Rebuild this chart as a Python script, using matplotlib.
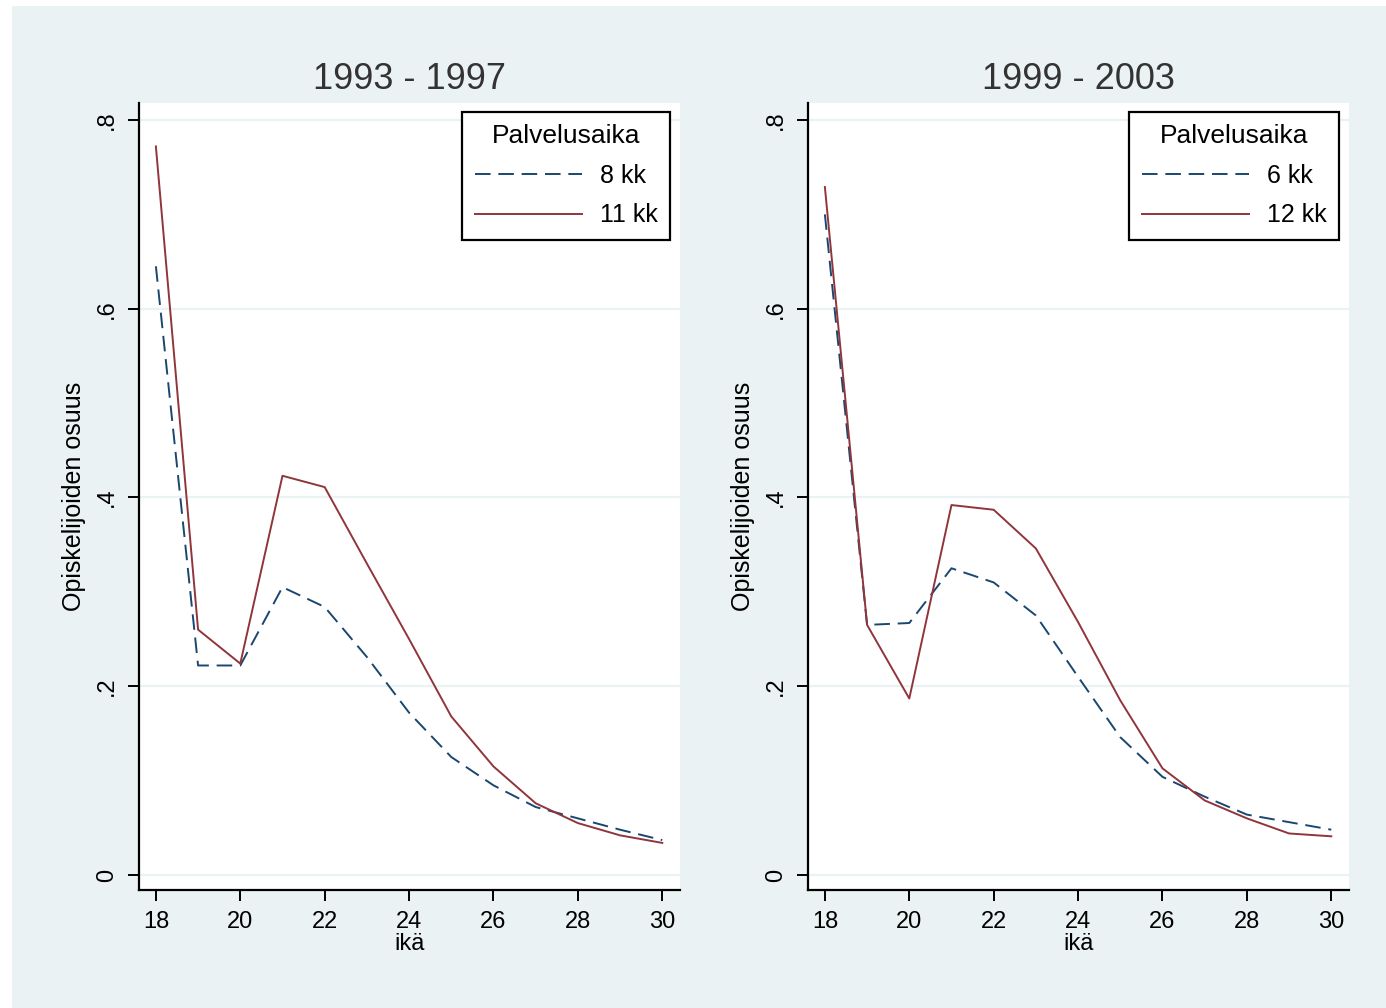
import matplotlib
matplotlib.use("Agg")
import matplotlib.pyplot as plt
from matplotlib.patches import Rectangle

# Datat (luettu kuvasta)
ika = [18, 19, 20, 21, 22, 23, 24, 25, 26, 27, 28, 29, 30]

vasen_8kk = [0.645, 0.222, 0.222, 0.305, 0.284, 0.231, 0.172, 0.125, 0.095, 0.072, 0.060, 0.048, 0.037]
vasen_11kk = [0.772, 0.260, 0.224, 0.423, 0.411, 0.330, 0.250, 0.168, 0.115, 0.076, 0.055, 0.042, 0.034]

oikea_6kk = [0.700, 0.265, 0.267, 0.325, 0.310, 0.275, 0.210, 0.146, 0.104, 0.083, 0.064, 0.056, 0.048]
oikea_12kk = [0.729, 0.265, 0.187, 0.392, 0.387, 0.346, 0.268, 0.185, 0.113, 0.079, 0.060, 0.044, 0.041]

otsikot = ["1993 - 1997", "1999 - 2003"]
selitteet = [("8 kk", "11 kk"), ("6 kk", "12 kk")]
y_ticks = [0, 0.2, 0.4, 0.6, 0.8]
y_labels = ["0", ".2", ".4", ".6", ".8"]
x_ticks = [18, 20, 22, 24, 26, 28, 30]

NAVY = "#1a476f"
MAROON = "#90353b"
BG = "#eaf2f3"

plt.rcParams['font.family'] = ['Liberation Sans', 'DejaVu Sans']

fig = plt.figure(figsize=(13.86, 10.08), dpi=100, facecolor="white")
# taustalaatikko (Stata-tyyli), axesien alle
tausta = Rectangle((12 / 1386, 0), 1 - 12 / 1386, 1 - 6 / 1008,
                   transform=fig.transFigure, facecolor=BG,
                   edgecolor="none", zorder=-10)
fig.add_artist(tausta)

paneelit = [
    (139, vasen_8kk, vasen_11kk),
    (808, oikea_6kk, oikea_12kk),
]

for i, (x0, sarja1, sarja2) in enumerate(paneelit):
    ax = fig.add_axes([x0 / 1386, 1 - 890 / 1008, 541 / 1386, 787 / 1008])
    ax.set_facecolor("white")
    ax.set_xlim(17.6, 30.42)
    ax.set_ylim(-0.0159, 0.818)

    for yt in y_ticks:
        ax.axhline(yt, color=BG, lw=1.6, zorder=1)

    ax.plot(ika, sarja1, color=NAVY, lw=1.4, dashes=(8, 4), label=selitteet[i][0], zorder=3)
    ax.plot(ika, sarja2, color=MAROON, lw=1.4, label=selitteet[i][1], zorder=3)

    for s in ["top", "right"]:
        ax.spines[s].set_visible(False)
    for s in ["left", "bottom"]:
        ax.spines[s].set_linewidth(1.6)
        ax.spines[s].set_color("black")

    ax.set_yticks(y_ticks)
    ax.set_yticklabels(y_labels)
    ax.set_xticks(x_ticks)
    ax.tick_params(axis="both", length=8, width=1.4, labelsize=17, color="black")
    ax.tick_params(axis="x", pad=7)
    ax.tick_params(axis="y", pad=7)
    for lab in ax.get_yticklabels():
        lab.set_rotation(90)
        lab.set_va("center")

    ax.set_title(otsikot[i], fontsize=26, color="#333333", pad=10)
    ax.set_xlabel("ikä", fontsize=17)
    ax.xaxis.set_label_coords(0.5, -0.055)
    ax.set_ylabel("Opiskelijoiden osuus", fontsize=18)
    ax.yaxis.set_label_coords(-0.098, 0.5)

    leg = ax.legend(title="Palvelusaika", loc="upper right",
                    bbox_to_anchor=(0.9815, 0.9886), borderaxespad=0,
                    fontsize=18, title_fontsize=19, fancybox=False,
                    framealpha=1, edgecolor="black", handlelength=4.3,
                    handletextpad=0.7, labelspacing=0.62, borderpad=0.5)
    leg.get_frame().set_linewidth(1.6)

fig.savefig("out.png", dpi=100, facecolor=fig.get_facecolor())
